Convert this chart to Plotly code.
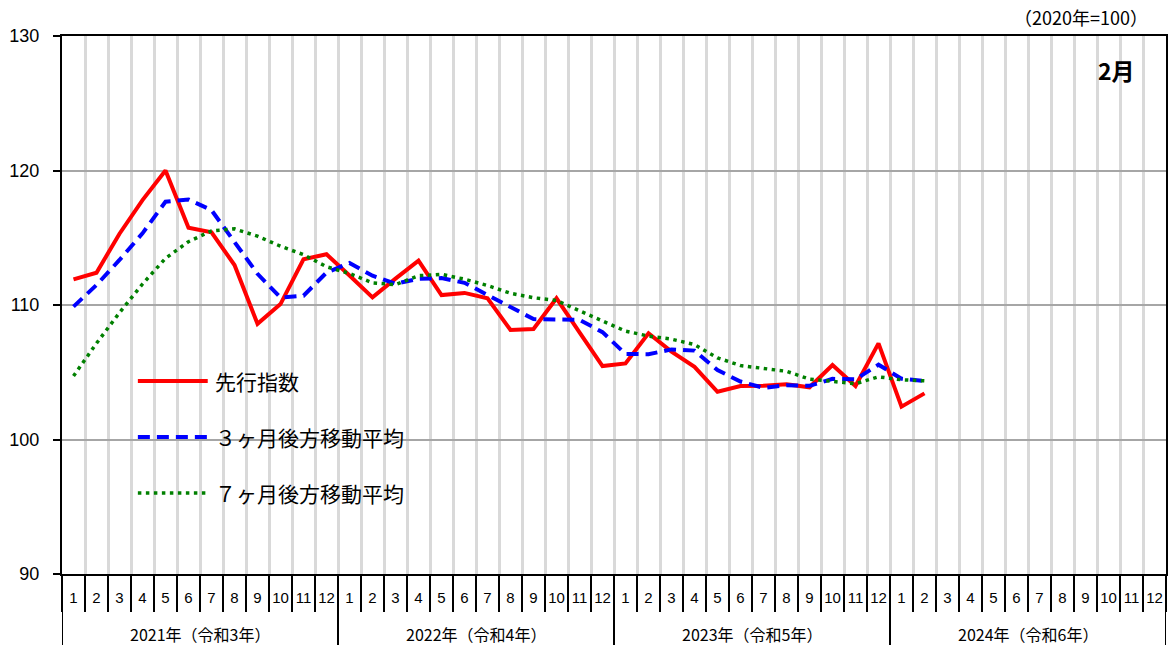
import plotly.graph_objects as go

# ---- data ----
months = [str(m) for m in range(1, 13)] * 4
year_labels = ["2021年（令和3年）", "2022年（令和4年）", "2023年（令和5年）", "2024年（令和6年）"]

leading_index = [111.9, 112.4, 115.3, 117.8, 120.0, 115.75, 115.4, 112.97, 108.6, 110.07, 113.4, 113.77,
                 112.2, 110.57, 111.96, 113.3, 110.74, 110.9, 110.5, 108.14, 108.22, 110.5, 107.97, 105.46,
                 105.66, 107.9, 106.53, 105.4, 103.55, 103.98, 104.0, 104.1, 103.88, 105.54, 103.98, 107.15,
                 102.44, 103.43]
ma3 = [109.88, 111.49, 113.35, 115.33, 117.68, 117.85, 117.05, 114.7, 112.32, 110.55, 110.69, 112.41,
       113.12, 112.18, 111.58, 111.94, 112.0, 111.65, 110.71, 109.85, 108.95, 108.95, 108.9, 107.98,
       106.36, 106.34, 106.7, 106.61, 105.16, 104.31, 103.84, 104.03, 103.99, 104.51, 104.47, 105.56,
       104.52, 104.34]
ma7 = [104.72, 107.15, 109.43, 111.56, 113.47, 114.71, 115.51, 115.66, 115.12, 114.37, 113.74, 112.85,
       112.34, 111.65, 111.51, 112.18, 112.28, 111.92, 111.45, 110.87, 110.54, 110.33, 109.57, 108.81,
       108.06, 107.69, 107.46, 107.06, 106.07, 105.5, 105.29, 105.07, 104.49, 104.35, 104.15, 104.66,
       104.44, 104.36]
series_names = ["先行指数", "３ヶ月後方移動平均", "７ヶ月後方移動平均"]

# ---- geometry helpers (pixel -> paper) ----
W, H = 1170, 645
L, R, T, B = 62, 2, 36, 71
PW, PH = W - L - R, H - T - B


def px(xp):
    return (xp - L) / PW


def py(yp):
    return (H - B - yp) / PH


x_idx = list(range(1, len(leading_index) + 1))

fig = go.Figure()
fig.add_trace(go.Scatter(x=x_idx, y=leading_index, mode="lines", name=series_names[0],
                         line=dict(color="#ff0000", width=4)))
fig.add_trace(go.Scatter(x=x_idx, y=ma3, mode="lines", name=series_names[1],
                         line=dict(color="#0000ff", width=4, dash="12px,7px")))
fig.add_trace(go.Scatter(x=x_idx, y=ma7, mode="lines", name=series_names[2],
                         line=dict(color="#008000", width=3.5, dash="3.5px,4.5px")))

jp_font = "Noto Sans CJK JP"
num_font = "Liberation Sans"

shapes = []
# legend box (covers gridlines)
shapes.append(dict(type="rect", xref="paper", yref="paper", x0=px(128), x1=px(410), y0=py(522), y1=py(352),
                   fillcolor="white", line=dict(width=0), layer="between"))
# year dividers extending below axis
for b in [0.5, 12.5, 24.5, 36.5, 48.5]:
    shapes.append(dict(type="line", xref="x", yref="paper", x0=b, x1=b, y0=py(645), y1=0,
                       line=dict(color="black", width=2)))

annotations = []
# legend samples + text
leg_rows = [381, 437, 493]
leg_styles = [dict(color="#ff0000", width=4), dict(color="#0000ff", width=4, dash="12px,7px"),
              dict(color="#008000", width=3.5, dash="3.5px,4.5px")]
for yrow, st, name in zip(leg_rows, leg_styles, series_names):
    shapes.append(dict(type="line", xref="paper", yref="paper", x0=px(138), x1=px(208), y0=py(yrow), y1=py(yrow),
                       line=st, layer="above"))
    annotations.append(dict(xref="paper", yref="paper", x=px(213), y=py(yrow), text=name, showarrow=False,
                            xanchor="left", yanchor="middle", font=dict(family=jp_font, size=21, color="black")))

for i, lab in enumerate(year_labels):
    annotations.append(dict(xref="x", yref="paper", x=6.5 + 12 * i, y=py(634), text=lab, showarrow=False,
                            xanchor="center", yanchor="middle", font=dict(family=jp_font, size=16, color="black")))

annotations.append(dict(xref="paper", yref="paper", x=px(1152), y=py(17), text="（2020年=100）", showarrow=False,
                        xanchor="right", yanchor="middle", font=dict(family=jp_font, size=18, color="black")))
annotations.append(dict(xref="paper", yref="paper", x=px(1139), y=py(70), text="<b>2月</b>", showarrow=False,
                        xanchor="right", yanchor="middle", font=dict(family=jp_font, size=23, color="black")))

fig.update_layout(
    width=W, height=H,
    margin=dict(l=L, r=R, t=T, b=B, pad=0),
    paper_bgcolor="white", plot_bgcolor="white",
    showlegend=False,
    shapes=shapes, annotations=annotations,
    xaxis=dict(range=[0.5, 48.5], tickvals=list(range(1, 49)), ticktext=months,
               tickfont=dict(family=num_font, size=15, color="black"),
               ticks="", showgrid=False, zeroline=False,
               showline=True, linecolor="black", linewidth=2, mirror=True,
               ticklabelstandoff=9,
               minor=dict(tickvals=[k + 0.5 for k in range(0, 49)], showgrid=True, gridcolor="#d9d9d9",
                          gridwidth=2.5, ticks="outside", ticklen=36, tickcolor="black", tickwidth=2)),
    yaxis=dict(range=[90, 130], tickvals=[90, 100, 110, 120, 130], showgrid=True, gridcolor="#a6a6a6",
               gridwidth=2, zeroline=False, ticks="outside", ticklen=7, tickcolor="black", tickwidth=2,
               showline=True, linecolor="black", linewidth=2, mirror=True,
               tickfont=dict(family=num_font, size=18, color="black"), ticklabelstandoff=10),
)

fig.write_html("out.html", config={"displayModeBar": False},
               post_script="document.body.style.margin='0';document.body.style.padding='0';")
